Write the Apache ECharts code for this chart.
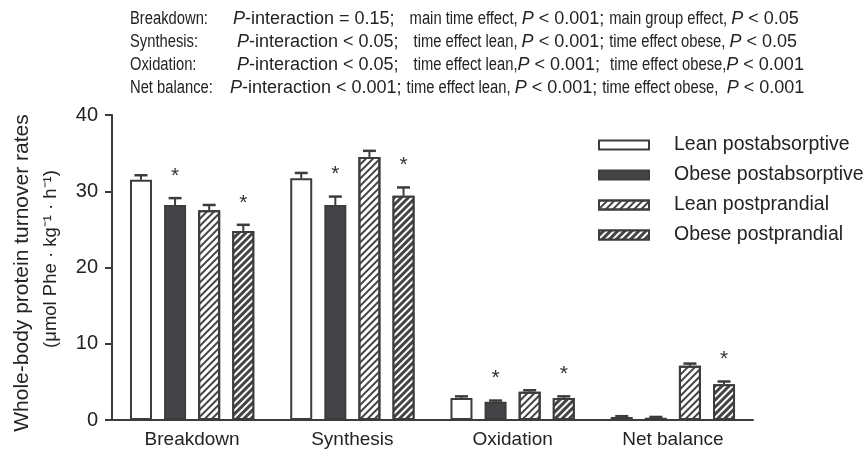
<!DOCTYPE html>
<html>
<head>
<meta charset="utf-8">
<script src="https://cdn.jsdelivr.net/npm/echarts@6/dist/echarts.min.js"></script>
<style>
  html, body { margin: 0; padding: 0; background: #fff; }
  #chart { width: 865px; height: 456px; }
</style>
</head>
<body>
<div id="chart"></div>
<script>
// categories and groups
const categories = ['Breakdown', 'Synthesis', 'Oxidation', 'Net balance'];
const groups = ['Lean postabsorptive', 'Obese postabsorptive', 'Lean postprandial', 'Obese postprandial'];

// means
const leanPA = [31.5, 31.7, 2.9, 0.4];
const obesePA = [28.2, 28.2, 2.4, 0.3];
const leanPP = [27.5, 34.5, 3.7, 7.1];
const obesePP = [24.8, 29.4, 2.9, 4.7];

// error (upper SEM)
const leanPAErr = [0.6, 0.7, 0.2, 0.1];
const obesePAErr = [0.9, 1.1, 0.15, 0.1];
const leanPPErr = [0.7, 0.8, 0.2, 0.3];
const obesePPErr = [0.8, 1.1, 0.2, 0.35];

// asterisks (1 = significant vs lean)
const leanPASig = [0, 0, 0, 0];
const obesePASig = [1, 1, 1, 0];
const leanPPSig = [0, 0, 0, 0];
const obesePPSig = [1, 1, 1, 1];

const yTicks = [0, 10, 20, 30, 40];

// stats text above the plot: r = regular, i = italic, n = narrow
const statLabels = ['Breakdown:', 'Synthesis:', 'Oxidation:', 'Net balance:'];
const statLines = [
  [['i', 'P'], ['r', '-interaction = 0.15;   '], ['n', 'main time effect, '], ['i', 'P'], ['r', ' < 0.001; '], ['n', 'main group effect, '], ['i', 'P'], ['r', ' < 0.05']],
  [['i', 'P'], ['r', '-interaction < 0.05;   '], ['n', 'time effect lean, '], ['i', 'P'], ['r', ' < 0.001; '], ['n', 'time effect obese, '], ['i', 'P'], ['r', ' < 0.05']],
  [['i', 'P'], ['r', '-interaction < 0.05;   '], ['n', 'time effect lean,'], ['i', 'P'], ['r', ' < 0.001;  '], ['n', 'time effect obese,'], ['i', 'P'], ['r', ' < 0.001']],
  [['i', 'P'], ['r', '-interaction < 0.001; '], ['n', 'time effect lean, '], ['i', 'P'], ['r', ' < 0.001; '], ['n', 'time effect obese,  '], ['i', 'P'], ['r', ' < 0.001']]
];
const statIndent = [233, 237, 237, 230];

const DARK = '#444446';
const LINE = '#3c3c3c';
const TEXT = '#232323';
const FONT = '"Liberation Sans", Arial, sans-serif';
const NARROW_SCALE = 0.82;
const segFonts = {
  r: '18px ' + FONT,
  i: 'italic 18px ' + FONT,
  n: '18px ' + FONT
};

const BAR_W = 22;
const BAR_GAP = 0.55;
const BAR_STEP = BAR_W * (1 + BAR_GAP);

const means = [leanPA, obesePA, leanPP, obesePP];
const errs = [leanPAErr, obesePAErr, leanPPErr, obesePPErr];
const sigs = [leanPASig, obesePASig, leanPPSig, obesePPSig];

function hatch(fg) {
  return { symbol: 'rect', symbolSize: 1, dashArrayX: [1, 0], dashArrayY: [2, 3], rotation: -Math.PI / 4, color: fg };
}

const styles = [
  { color: '#fff', borderColor: LINE, borderWidth: 2 },
  { color: DARK, borderColor: LINE, borderWidth: 2 },
  { color: '#fff', borderColor: LINE, borderWidth: 2, decal: hatch(DARK) },
  { color: DARK, borderColor: LINE, borderWidth: 2, decal: hatch('#fff') }
];

const errData = [];
means.forEach(function (arr, g) {
  arr.forEach(function (v, c) {
    errData.push([c, g, v, errs[g][c], sigs[g][c]]);
  });
});

// lay out the stats lines segment by segment
const measureCtx = document.createElement('canvas').getContext('2d');
function textWidth(str, font) {
  measureCtx.font = font;
  return measureCtx.measureText(str).width;
}

const graphics = [];
statLabels.forEach(function (lab, i) {
  const y = 19 + i * 23;
  graphics.push({
    type: 'text', x: 130, y: y, scaleX: NARROW_SCALE,
    style: { text: lab, x: 0, y: 0, font: segFonts.n, fill: TEXT, verticalAlign: 'middle' }
  });
  let cursor = statIndent[i];
  statLines[i].forEach(function (seg) {
    const k = seg[0];
    const sx = k === 'n' ? NARROW_SCALE : 1;
    graphics.push({
      type: 'text', x: cursor, y: y, scaleX: sx,
      style: { text: seg[1], x: 0, y: 0, font: segFonts[k], fill: TEXT, verticalAlign: 'middle' }
    });
    cursor += textWidth(seg[1], segFonts[k]) * sx;
  });
});
graphics.push({
  type: 'text', x: 22, y: 273, rotation: Math.PI / 2,
  style: { text: 'Whole-body protein turnover rates', font: '21px ' + FONT, fill: TEXT, align: 'center', verticalAlign: 'middle' }
});
graphics.push({
  type: 'text', x: 51, y: 259, rotation: Math.PI / 2,
  style: { text: '(μmol Phe · kg⁻¹ · h⁻¹)', font: '18.5px ' + FONT, fill: TEXT, align: 'center', verticalAlign: 'middle' }
});

const chart = echarts.init(document.getElementById('chart'), null, { renderer: 'canvas' });

const series = groups.map(function (name, g) {
  return {
    name: name,
    type: 'bar',
    data: means[g],
    barWidth: BAR_W,
    barGap: (BAR_GAP * 100) + '%',
    itemStyle: styles[g],
    emphasis: { disabled: true },
    z: 2
  };
});

series.push({
  name: 'error',
  type: 'custom',
  data: errData,
  encode: { x: 0, y: 2 },
  z: 3,
  silent: true,
  renderItem: function (params, api) {
    const c = api.value(0);
    const g = api.value(1);
    const v = api.value(2);
    const e = api.value(3);
    const s = api.value(4);
    const x = api.coord([c, 0])[0] + (g - 1.5) * BAR_STEP;
    const yTop = api.coord([c, v])[1];
    const yErr = api.coord([c, v + e])[1];
    const children = [
      { type: 'line', shape: { x1: x, y1: yTop, x2: x, y2: yErr }, style: { stroke: LINE, lineWidth: 2 } },
      { type: 'line', shape: { x1: x - 6.5, y1: yErr, x2: x + 6.5, y2: yErr }, style: { stroke: LINE, lineWidth: 2.5 } }
    ];
    if (s) {
      children.push({
        type: 'text',
        style: { text: '*', x: x, y: yErr - 22, align: 'center', verticalAlign: 'middle', font: '21px ' + FONT, fill: '#333' }
      });
    }
    return { type: 'group', children: children };
  }
});

chart.setOption({
  animation: false,
  backgroundColor: '#fff',
  graphic: graphics,
  legend: {
    data: groups,
    orient: 'vertical',
    left: 593,
    top: 130,
    icon: 'rect',
    itemWidth: 50,
    itemHeight: 9,
    itemGap: 10,
    selectedMode: false,
    textStyle: { fontSize: 19.5, fontFamily: FONT, color: TEXT, padding: [0, 0, 0, 20] }
  },
  grid: { left: 112, right: 112, top: 115, bottom: 36 },
  xAxis: {
    type: 'category',
    data: categories,
    axisLine: { lineStyle: { color: LINE, width: 2 } },
    axisTick: { alignWithLabel: true, length: 7, lineStyle: { color: LINE, width: 2 } },
    axisLabel: { fontSize: 19, fontFamily: FONT, color: TEXT, margin: 10 }
  },
  yAxis: {
    type: 'value',
    min: yTicks[0],
    max: yTicks[yTicks.length - 1],
    interval: yTicks[1] - yTicks[0],
    axisLine: { show: true, lineStyle: { color: LINE, width: 2 } },
    axisTick: { show: true, length: 7, lineStyle: { color: LINE, width: 2 } },
    splitLine: { show: false },
    axisLabel: { fontSize: 20, fontFamily: FONT, color: TEXT, margin: 14 }
  },
  series: series
});
</script>
</body>
</html>
